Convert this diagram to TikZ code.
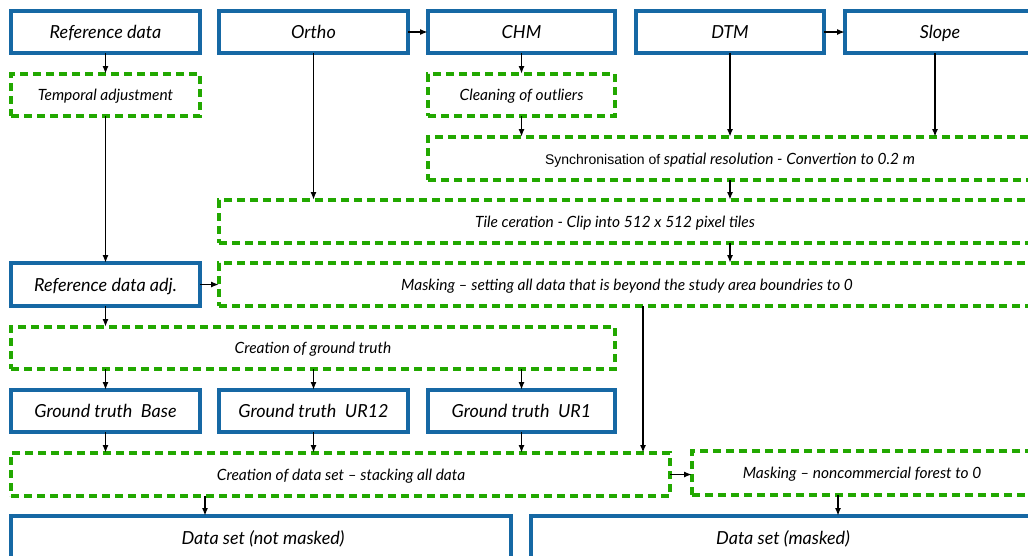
\documentclass[tikz,border=0pt]{standalone}
\usepackage{fontspec}
\setmainfont{Lato}
\newfontfamily\plainsans{Liberation Sans}
\usetikzlibrary{arrows.meta,calc}
\definecolor{boxblue}{RGB}{22,104,164}
\definecolor{stepgreen}{RGB}{34,168,0}
\tikzset{
  databox/.style={draw=boxblue, line width=3.2pt, fill=white, inner sep=0pt, outer sep=0pt,
    anchor=north west, font=\fontsize{18}{21}\selectfont\itshape, text height=13pt, text depth=0pt},
  procbox/.style={draw=stepgreen, line width=3.2pt, dash pattern=on 8pt off 5pt, inner sep=0pt,
    outer sep=0pt, anchor=north west, font=\fontsize{15.5}{18}\selectfont\itshape,
    text height=11pt, text depth=0pt},
  flow/.style={draw=black, line width=1.6pt, -{Latex[length=8pt,width=6pt]}},
  steptext/.style={font=\fontsize{15.5}{18}\selectfont\itshape, inner sep=0pt,
    text height=11pt, text depth=0pt},
  datatext/.style={font=\fontsize{18}{21}\selectfont\itshape, inner sep=0pt,
    text height=13pt, text depth=0pt}
}
\begin{document}
\begin{tikzpicture}[x=1pt,y=-1pt]
\clip (0,0) rectangle (1028,555);
\fill[white] (0,0) rectangle (1028,555);

% input layers
\node[databox, minimum width=189pt, minimum height=42pt] (ref) at (11,11) {Reference data};
\node[databox, minimum width=189pt, minimum height=42pt] (ortho) at (219,11) {Ortho};
\node[databox, minimum width=187pt, minimum height=42pt] (chm) at (428,11) {CHM};
\node[databox, minimum width=188pt, minimum height=42pt] (dtm) at (636,11) {DTM};
\node[databox, minimum width=190pt, minimum height=42pt] (slope) at (845,11) {Slope};

% preprocessing
\node[procbox, minimum width=189pt, minimum height=42pt] (temp) at (11,74) {Temporal adjustment};
\node[procbox, minimum width=187pt, minimum height=42pt] (clean) at (428,74) {Cleaning of outliers};
\node[procbox, minimum width=610pt, minimum height=43pt] (sync) at (428,137) {};
\node[steptext] at (730,158.5) {{\plainsans\upshape\fontsize{14}{16}\selectfont Synchronisation of} spatial resolution - Convertion to 0.2 m};
\node[procbox, minimum width=830pt, minimum height=43pt] (tile) at (219,200) {};
\node[steptext] at (615,221.5) {Tile ceration - Clip into 512 x 512 pixel tiles};
\node[databox, minimum width=189pt, minimum height=43pt] (refadj) at (11,263) {Reference data adj.};
\node[procbox, minimum width=830pt, minimum height=43pt] (mask) at (219,263) {};
\node[steptext] at (627,284.5) {Masking -- setting all data that is beyond the study area boundries to 0};

% ground truth
\node[procbox, minimum width=604pt, minimum height=42pt] (cgt) at (11,327) {Creation of ground truth};
\node[databox, minimum width=189pt, minimum height=42pt] (gtb) at (11,390) {Ground truth\ \ Base};
\node[databox, minimum width=189pt, minimum height=42pt] (gt12) at (219,390) {Ground truth\ \ UR12};
\node[databox, minimum width=187pt, minimum height=42pt] (gt1) at (428,390) {Ground truth\ \ UR1};

% data sets
\node[procbox, minimum width=659pt, minimum height=43pt] (cds) at (11,453) {};
\node[steptext] at (341,474.5) {Creation of data set -- stacking all data};
\node[procbox, minimum width=350pt, minimum height=44pt] (masknc) at (692,451) {};
\node[steptext] at (862,473) {Masking -- noncommercial forest to 0};
\node[databox, minimum width=500pt, minimum height=60pt] (dsn) at (11,516) {};
\node[datatext] at (263,538) {Data set (not masked)};
\node[databox, minimum width=510pt, minimum height=60pt] (dsm) at (531,516) {};
\node[datatext] at (783,538) {Data set (masked)};

% connector positions
\coordinate (mx) at (643,0);
\coordinate (dx) at (205,0);
\coordinate (nx) at (838,0);
\coordinate (sx) at (935,0);

% connectors
\draw[flow] (ref.south) -- (temp.north);
\draw[flow] (temp.south) -- (refadj.north);
\draw[flow] (ortho.east) -- (chm.west);
\draw[flow] (dtm.east) -- (slope.west);
\draw[flow] (ortho.south) -- (ortho.south |- tile.north);
\draw[flow] (chm.south) -- (clean.north);
\draw[flow] (clean.south) -- (clean.south |- sync.north);
\draw[flow] (dtm.south) -- (dtm.south |- sync.north);
\draw[flow] (slope.south -| sx) -- (sx |- sync.north);
\draw[flow] (dtm.south |- sync.south) -- (dtm.south |- tile.north);
\draw[flow] (dtm.south |- tile.south) -- (dtm.south |- mask.north);
\draw[flow] (refadj.east) -- (refadj.east -| mask.west);
\draw[flow] (refadj.south) -- (refadj.south |- cgt.north);
\draw[flow] (mx |- mask.south) -- (mx |- cds.north);
\draw[flow] (gtb.north |- cgt.south) -- (gtb.north);
\draw[flow] (gt12.north |- cgt.south) -- (gt12.north);
\draw[flow] (gt1.north |- cgt.south) -- (gt1.north);
\draw[flow] (gtb.south) -- (gtb.south |- cds.north);
\draw[flow] (gt12.south) -- (gt12.south |- cds.north);
\draw[flow] (gt1.south) -- (gt1.south |- cds.north);
\draw[flow] (cds.east) -- (cds.east -| masknc.west);
\draw[flow] (dx |- cds.south) -- (dx |- dsn.north);
\draw[flow] (nx |- masknc.south) -- (nx |- dsm.north);
\end{tikzpicture}
\end{document}
